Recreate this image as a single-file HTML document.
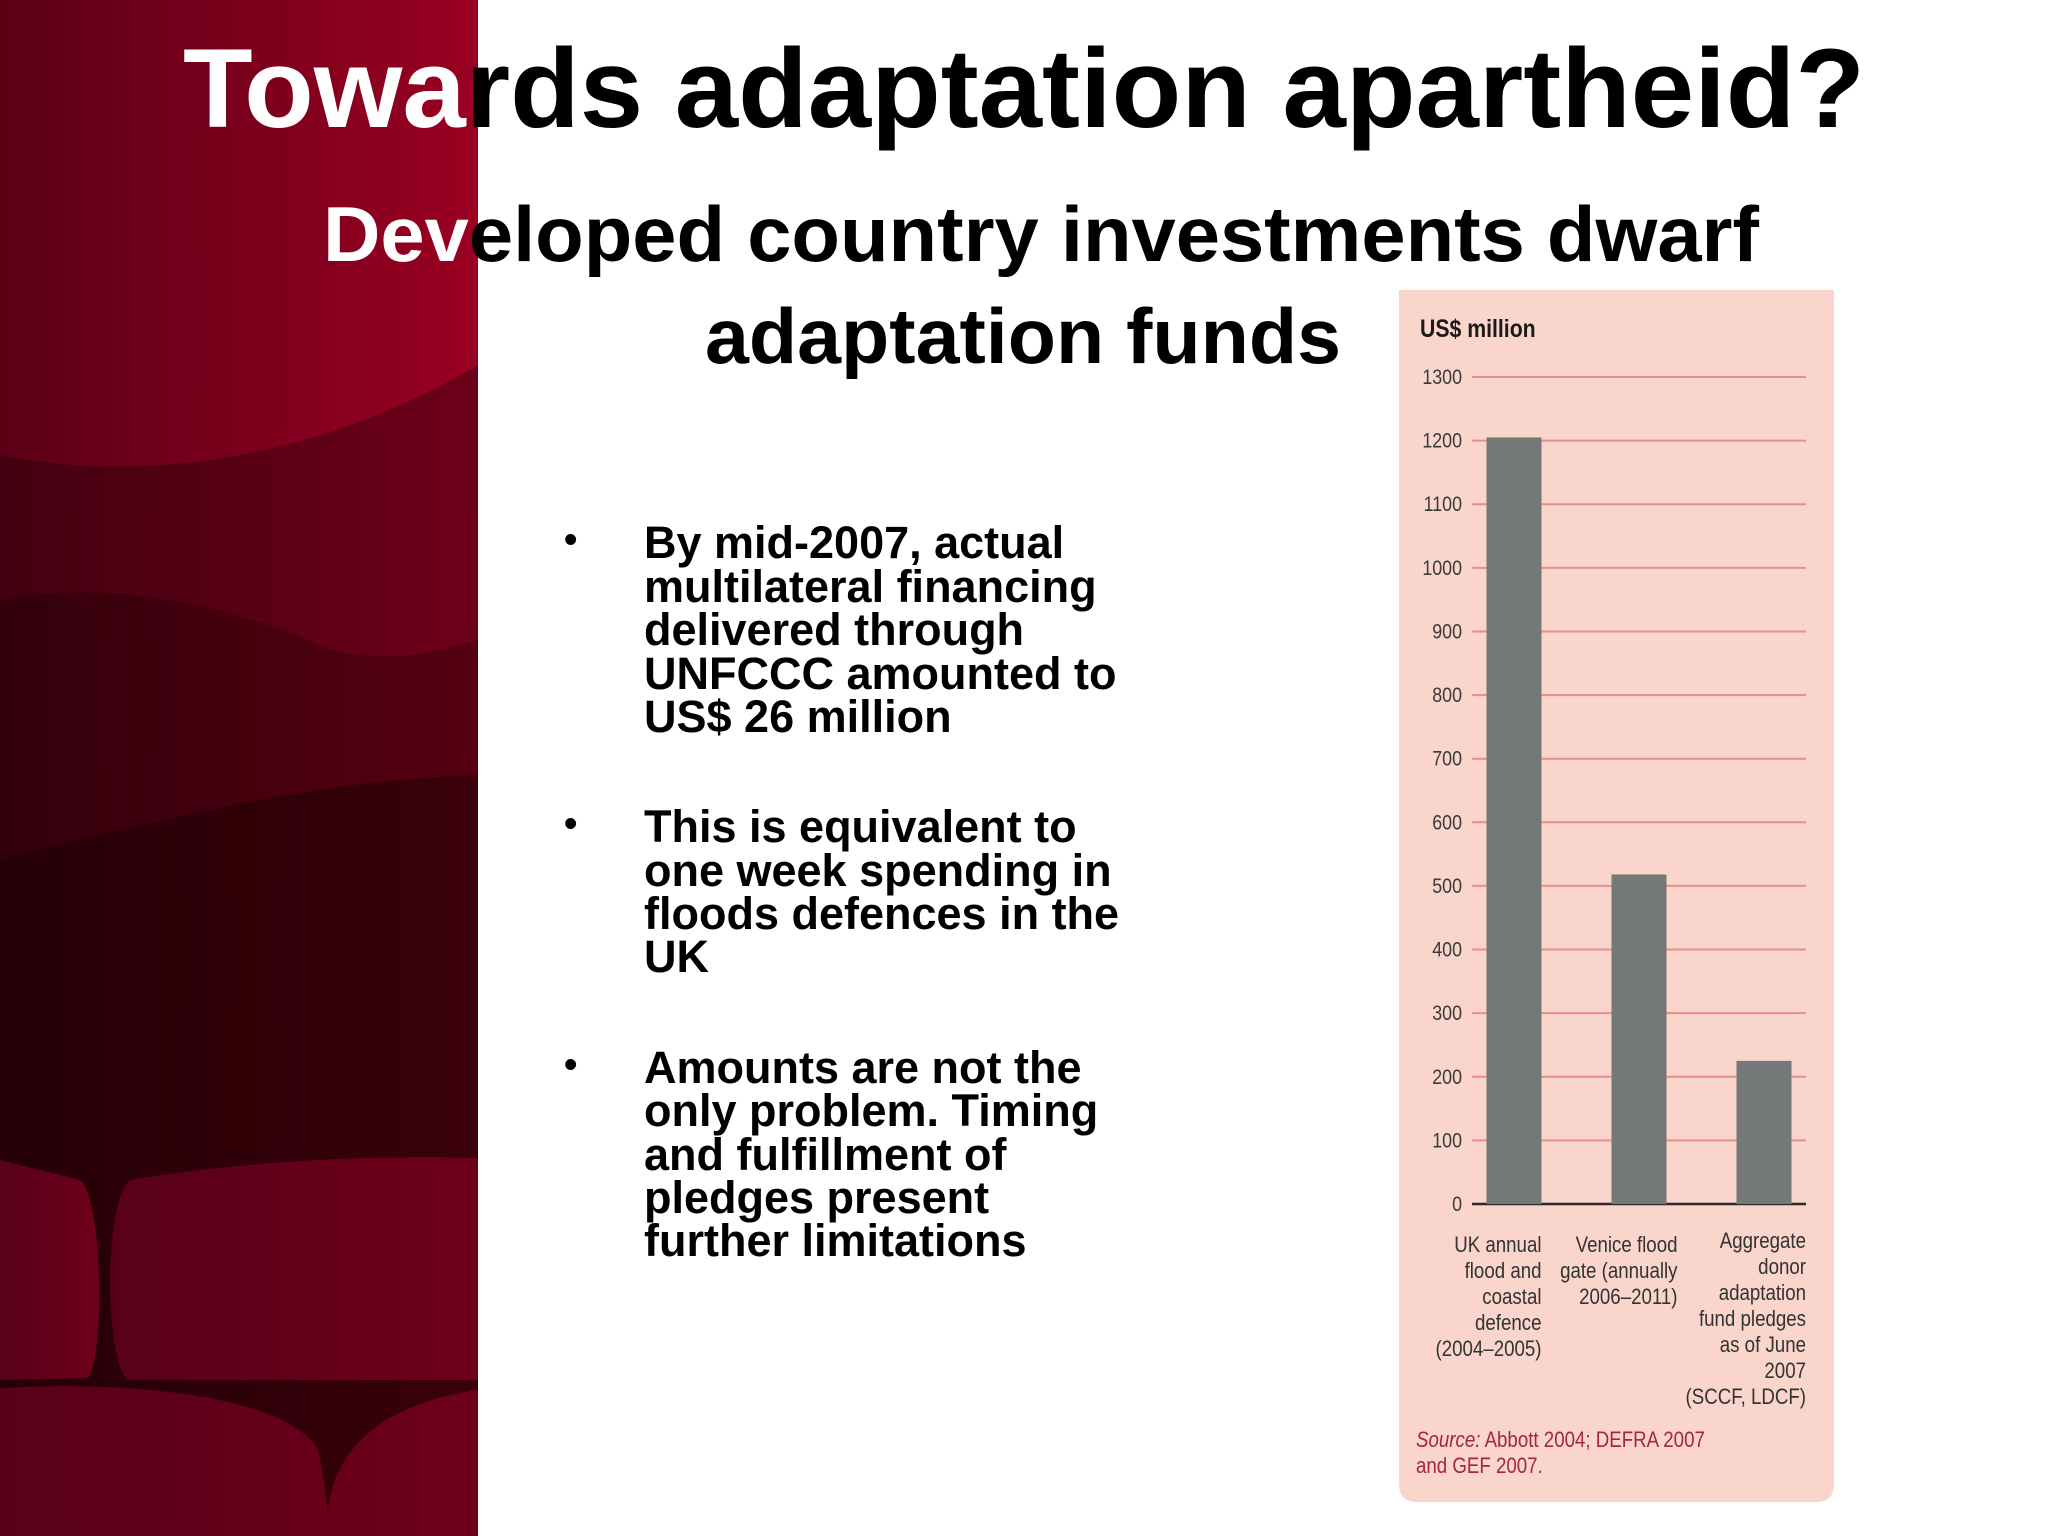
<!DOCTYPE html>
<html><head><meta charset="utf-8"><style>
html,body{margin:0;padding:0;background:#fff;}
svg{display:block;}
text{font-family:"Liberation Sans",sans-serif;}
</style></head><body>
<svg id="page" width="2048" height="1536" viewBox="0 0 2048 1536">
<defs>
<linearGradient id="g0" x1="0" x2="1"><stop offset="0" stop-color="#5a0016"/><stop offset="1" stop-color="#9a0021"/></linearGradient>
<linearGradient id="g1" x1="0" x2="1"><stop offset="0" stop-color="#420010"/><stop offset="1" stop-color="#6e0019"/></linearGradient>
<linearGradient id="g2" x1="0" x2="1"><stop offset="0" stop-color="#32000b"/><stop offset="1" stop-color="#560012"/></linearGradient>
<linearGradient id="g3" x1="0" x2="1"><stop offset="0" stop-color="#260007"/><stop offset="1" stop-color="#3a000b"/></linearGradient>
<linearGradient id="g4" x1="0" x2="1"><stop offset="0" stop-color="#58001a"/><stop offset="1" stop-color="#6e001a"/></linearGradient>
</defs>
<g>
<rect x="0" y="0" width="478" height="1536" fill="url(#g0)"/>
<path d="M0 455 C120 480 300 470 478 365 L478 1536 L0 1536Z" fill="url(#g1)"/>
<path d="M0 600 C80 585 200 590 330 650 C400 665 440 650 478 640 L478 1536 L0 1536Z" fill="url(#g2)"/>
<path d="M0 860 C120 830 300 780 478 775 L478 1536 L0 1536Z" fill="url(#g3)"/>
<path d="M0 1160 L80 1180 C104 1200 104 1360 88 1378 L0 1380Z" fill="url(#g4)"/>
<path d="M130 1180 C250 1160 380 1155 478 1158 L478 1380 L128 1380 C104 1360 104 1200 130 1180Z" fill="url(#g4)"/>
<path d="M0 1388 C150 1380 290 1400 318 1450 C325 1480 327 1505 328 1512 C330 1490 340 1410 478 1390 L478 1536 L0 1536Z" fill="url(#g4)"/>
</g>
<text x="183" y="127" font-size="112" font-weight="bold" fill="#000" textLength="1682" lengthAdjust="spacingAndGlyphs"><tspan fill="#fff">Towa</tspan>rds adaptation apartheid?</text>
<text x="323" y="261" font-size="78" font-weight="bold" textLength="1436" lengthAdjust="spacingAndGlyphs"><tspan fill="#fff">Dev</tspan>eloped country investments dwarf</text>
<text x="705" y="363" font-size="78" font-weight="bold" textLength="636" lengthAdjust="spacingAndGlyphs">adaptation funds</text>
<g font-size="45" font-weight="bold" fill="#000">
<text x="564" y="552" font-size="38">•</text>
<text x="644" y="558">By mid-2007, actual</text>
<text x="644" y="602">multilateral financing</text>
<text x="644" y="645">delivered through</text>
<text x="644" y="689">UNFCCC amounted to</text>
<text x="644" y="732">US$ 26 million</text>
<text x="564" y="836" font-size="38">•</text>
<text x="644" y="842">This is equivalent to</text>
<text x="644" y="886">one week spending in</text>
<text x="644" y="929">floods defences in the</text>
<text x="644" y="972">UK</text>
<text x="564" y="1077" font-size="38">•</text>
<text x="644" y="1083">Amounts are not the</text>
<text x="644" y="1126">only problem. Timing</text>
<text x="644" y="1170">and fulfillment of</text>
<text x="644" y="1213">pledges present</text>
<text x="644" y="1256">further limitations</text>
</g>
<g id="chart">
<path d="M1399 290 H1834 V1484 Q1834 1502 1816 1502 H1417 Q1399 1502 1399 1484Z" fill="#f9d5cb"/>
<g transform="translate(1420,337) scale(0.85,1)"><text x="0" y="0" font-size="25" font-weight="bold" fill="#1a1a1a">US$ million</text></g>
<g id="grid"></g><g id="bars"></g><g id="cats"></g>
<g transform="translate(1416,1447) scale(0.85,1)" font-size="22" fill="#a3263f">
<text x="0" y="0"><tspan font-style="italic">Source:</tspan>  Abbott 2004; DEFRA 2007</text>
<text x="0" y="26">and GEF 2007.</text>
</g>
</g>
</svg>
<script>
const categories = [
  ["UK annual","flood and","coastal","defence","(2004–2005)"],
  ["Venice flood","gate (annually","2006–2011)"],
  ["Aggregate","donor","adaptation","fund pledges","as of June","2007","(SCCF, LDCF)"]
];
const values = [1205, 518, 225];
const ticks = [0,100,200,300,400,500,600,700,800,900,1000,1100,1200,1300];
const NS = "http://www.w3.org/2000/svg";
const y0 = 1204, yTop = 377, vmax = 1300;
const xL = 1472, xR = 1806, barW = 55, step = 125, firstC = 1514;
function yScale(v){ return y0 - (v / vmax) * (y0 - yTop); }
function xCenter(i){ return firstC + i * step; }
function mk(tag, attrs){ const e = document.createElementNS(NS, tag); for (const k in attrs) e.setAttribute(k, attrs[k]); return e; }
const grid = document.getElementById('grid');
ticks.forEach(t => {
  const y = yScale(t);
  const ln = mk('line', {x1: xL, x2: xR, y1: y, y2: y, stroke: t === 0 ? '#2a2a2a' : '#e3928b', 'stroke-width': t === 0 ? 2.5 : 2});
  
  
  grid.appendChild(ln);
  const g = mk('g', {transform: 'translate(1462,' + (y + 7) + ') scale(0.85,1)'});
  const tx = mk('text', {x: 0, y: 0, 'text-anchor': 'end', 'font-size': 21, fill: '#3a3a3a'});
  tx.textContent = t;
  
  
  g.appendChild(tx);
  grid.appendChild(g);
});
const bars = document.getElementById('bars');
const cats = document.getElementById('cats');
values.forEach((v, i) => {
  const cx = xCenter(i);
  const r = mk('rect', {x: cx - barW / 2, y: yScale(v), width: barW, height: y0 - yScale(v), fill: '#747877'});
  
  
  bars.appendChild(r);
  const right = i === 2 ? xR : cx + barW / 2 + (i === 1 ? 11 : 0);
  const topY = i === 2 ? 1248 : 1252;
  categories[i].forEach((line, j) => {
    const g = mk('g', {transform: 'translate(' + right + ',' + (topY + j * 26) + ') scale(0.85,1)'});
    const t = mk('text', {x: 0, y: 0, 'text-anchor': 'end', 'font-size': 22, fill: '#333'});
    t.textContent = line;
    
    
    g.appendChild(t);
    cats.appendChild(g);
  });
});
</script>
</body></html>
